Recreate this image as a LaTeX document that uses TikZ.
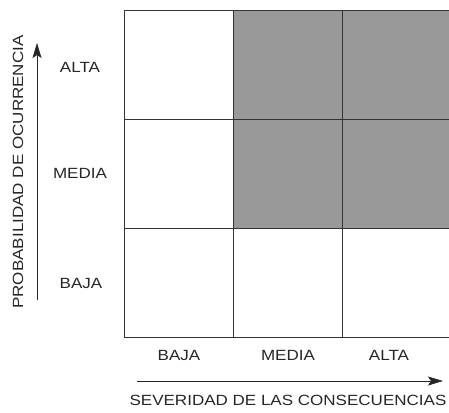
\documentclass[tikz,border=0pt]{standalone}
\usepackage{fontspec}
\setmainfont{Liberation Sans}
\usetikzlibrary{arrows.meta}

\begin{document}
\begin{tikzpicture}[x=1pt,y=1pt]
\tikzstyle{every node}+=[inner sep=0pt, outer sep=0pt]
\tikzstyle{cell}=[draw=black!80, line width=0.7pt, minimum width=109pt, minimum height=109pt]
\tikzstyle{risk}=[cell, fill=black!40]
\tikzstyle{lbl}=[font=\fontsize{14.8}{16}\selectfont, xscale=1.15, text=black!85]
\tikzstyle{axis}=[black!85, line width=0.7pt, -{Stealth[length=15pt,width=9pt,inset=3pt]}]
\useasboundingbox (0,0) rectangle (449,-412);
\node [cell] (c31) at (178.5,-282.5) {};
\node [cell] (c32) at (287.5,-282.5) {};
\node [cell] (c33) at (396.5,-282.5) {};
\node [cell] (c21) at (178.5,-173.5) {};
\node [risk] (c22) at (287.5,-173.5) {};
\node [risk] (c23) at (396.5,-173.5) {};
\node [cell] (c11) at (178.5,-64.5) {};
\node [risk] (c12) at (287.5,-64.5) {};
\node [risk] (c13) at (396.5,-64.5) {};
\node [lbl] (altaP) at (80,-67) {ALTA};
\node [lbl] (mediaP) at (80,-173) {MEDIA};
\node [lbl] (bajaP) at (81,-283) {BAJA};
\node [lbl] (bajaS) at (179,-355) {BAJA};
\node [lbl] (mediaS) at (288,-355) {MEDIA};
\node [lbl] (altaS) at (389,-355) {ALTA};
\node [rotate=90, lbl] (probab) at (18,-172) {PROBABILIDAD DE OCURRENCIA};
\node [lbl] (sever) at (288,-400) {SEVERIDAD DE LAS CONSECUENCIAS};
\coordinate (v0) at (37,-300);
\coordinate (v1) at (37,-43);
\coordinate (h0) at (137,-381);
\coordinate (h1) at (443,-381);
\draw [axis] (v0) -- (v1);
\draw [axis] (h0) -- (h1);
\end{tikzpicture}
\end{document}
